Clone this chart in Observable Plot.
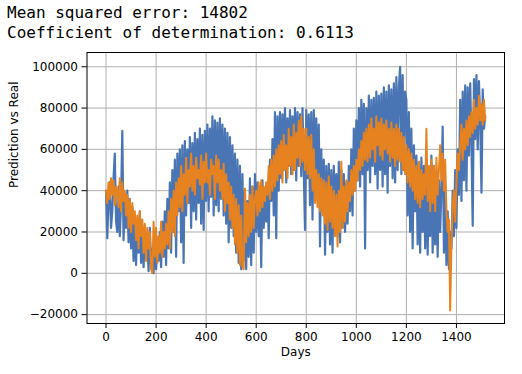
<!DOCTYPE html>
<html><head><meta charset="utf-8">
<script src="https://cdn.jsdelivr.net/npm/d3@7"></script>
<script src="https://cdn.jsdelivr.net/npm/@observablehq/plot@0.6"></script>
<style>
html,body{margin:0;padding:0;background:#fff;}
#hdr{font-family:"DejaVu Sans Mono",monospace;font-size:16px;line-height:20.5px;padding:2.5px 0 0 7px;height:45px;box-sizing:border-box;color:#000;white-space:pre;}
#chart svg{display:block;}
</style></head><body>
<div id="hdr"><div id="l1"></div><div id="l2"></div></div>
<div id="chart"></div>
<script>
// Summary numbers shown above the chart
const mse = "14802";
const r2 = "0.6113";

// Sampling interval of the series (days between readings)
const dayStep = 5;

// Real values (thousands), one reading every dayStep days
const realK = [
 40,17,35,44,22,30,46,58,25,20,
 42,18,34,69,16,38,22,40,15,36,
 12,32,6,28,4,25,10,30,5,22,
 3,20,8,16,1,22,4,12,0,18,
 2,15,6,20,3,25,8,30,4,36,
 12,44,10,50,20,55,8,58,30,60,
 15,62,5,64,28,60,34,66,22,63,
 30,68,26,65,34,70,24,67,21,69,
 35,72,30,70,37,76,28,74,33,73,
 30,75,36,72,28,70,24,68,15,66,
 22,62,18,58,10,55,5,52,2,48,
 6,40,2,35,8,46,4,42,10,48,
 20,44,18,42,3,45,22,40,25,44,
 17,55,35,65,28,78,17,76,40,78,
 46,77,50,80,44,75,52,79,48,76,
 50,80,45,78,52,77,47,80,50,21,
 79,46,77,33,78,26,79,50,75,40,
 72,13,60,30,55,9,52,20,53,14,
 50,10,52,25,48,18,54,15,50,22,
 48,20,44,24,52,30,60,28,70,40,
 74,45,80,42,84,48,82,12,80,50,
 86,44,84,52,85,48,88,41,86,50,
 87,42,90,48,88,39,91,52,89,46,
 92,44,95,50,90,100,48,96,50,88,
 84,28,78,20,70,12,62,30,57,14,
 54,10,56,20,52,12,55,9,50,18,
 57,10,52,14,48,8,45,20,42,71,
 10,40,4,30,2,20,12,40,18,50,
 22,60,38,84,35,88,45,91,40,90,
 57,92,62,23,94,65,96,60,93,73,
 39,89,70,76];

// Predicted values (thousands), same days
const predK = [
 40,34,44,36,46,38,45,33,42,40,
 32,46,30,44,35,40,28,38,22,36,
 20,34,24,30,16,28,12,30,18,26,
 10,24,6,22,12,20,2,0,25,8,
 22,5,18,10,25,8,20,12,24,14,
 30,12,36,20,40,18,44,28,46,32,
 52,30,48,38,56,34,50,42,58,40,
 52,38,56,46,50,43,57,36,54,44,
 58,44,50,38,55,48,52,36,57,44,
 55,40,50,36,53,30,48,34,44,26,
 42,22,38,14,36,10,33,4,28,3,
 2,41,15,34,18,38,20,42,22,36,
 40,28,44,30,45,32,42,35,44,38,
 52,36,55,40,57,42,60,45,62,48,
 64,44,67,50,62,46,70,52,66,48,
 72,50,68,56,74,52,76,54,70,50,
 70,48,66,46,67,40,60,34,50,32,
 48,30,46,28,45,24,44,21,47,25,
 42,22,40,18,38,13,40,20,54,22,
 42,25,45,30,44,35,50,38,52,40,
 55,45,60,50,64,52,68,55,70,54,
 72,56,75,60,70,54,76,62,73,57,
 75,55,72,60,74,58,70,54,73,56,
 70,52,72,55,70,54,68,50,66,48,
 62,44,60,42,58,40,55,36,52,34,
 54,32,50,36,48,38,70,35,52,30,
 55,34,52,30,56,38,50,62,45,58,
 40,55,30,20,26,-18,15,32,40,25,
 45,58,50,62,72,55,70,60,74,62,
 76,66,78,68,84,70,80,72,86,74,
 82,72,84,74];

// Tick labels
const xTicks = [0,200,400,600,800,1000,1200,1400];
const yTicks = [-20000,0,20000,40000,60000,80000,100000];

const xLabel = "Days";
const yLabel = "Prediction vs Real";

const realColor = "#4a75b4";
const predColor = "#e6821f";

document.getElementById("l1").textContent = "Mean squared error: " + mse;
document.getElementById("l2").textContent = "Coefficient of determination: " + r2;

const realRows = realK.map((v, i) => ({day: i * dayStep, value: v * 1000}));
const predRows = predK.map((v, i) => ({day: i * dayStep, value: v * 1000}));

const fmt = d3.format("d");

const chart = Plot.plot({
  width: 522,
  height: 329,
  marginTop: 7,
  marginBottom: 51,
  marginLeft: 86.5,
  marginRight: 18,
  style: {fontFamily: "'DejaVu Sans', sans-serif", fontSize: "12px", color: "#000", background: "#fff"},
  x: {domain: [-76, 1592]},
  y: {domain: [-24300, 106900]},
  marks: [
    Plot.gridX(xTicks, {stroke: "#b0b0b0", strokeOpacity: 1, strokeWidth: 1}),
    Plot.gridY(yTicks, {stroke: "#b0b0b0", strokeOpacity: 1, strokeWidth: 1}),
    Plot.line(realRows, {x: "day", y: "value", stroke: realColor, strokeWidth: 2.2}),
    Plot.line(predRows, {x: "day", y: "value", stroke: predColor, strokeWidth: 2}),
    Plot.frame({stroke: "#000", strokeWidth: 1}),
    Plot.axisX(xTicks, {tickSize: 5, tickPadding: 4, tickFormat: fmt, label: null}),
    Plot.axisY(yTicks, {tickSize: 5, tickPadding: 4, tickFormat: fmt, label: null}),
    Plot.text([xLabel], {frameAnchor: "bottom", text: d => d, dy: 32, fontSize: 12}),
    Plot.text([yLabel], {frameAnchor: "left", text: d => d, rotate: -90, dx: -72.5, fontSize: 12})
  ]
});
document.getElementById("chart").appendChild(chart);
</script>
</body></html>
